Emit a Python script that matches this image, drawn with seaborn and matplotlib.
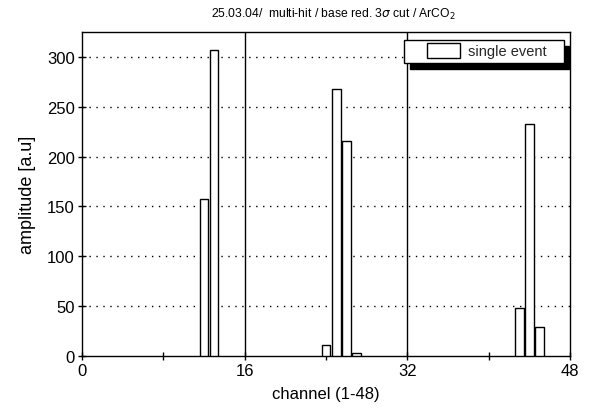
import matplotlib
matplotlib.use("Agg")
import matplotlib.pyplot as plt
from matplotlib.patches import Patch, Rectangle
from matplotlib.legend_handler import HandlerPatch
import seaborn as sns
import pandas as pd

# Channel hits and their amplitudes for one event
channels = [12, 13, 24, 25, 26, 27, 43, 44, 45]
amplitudes = [157, 307, 11, 268, 216, 3, 48, 233, 29]
x_ticks = [0, 8, 16, 24, 32, 40, 48]
x_tick_labels = ["0", "", "16", "", "32", "", "48"]
y_ticks = [0, 50, 100, 150, 200, 250, 300]
legend_label = "single event"

sns.set_theme(style="white")
plt.rcParams["font.family"] = ["Liberation Sans", "DejaVu Sans"]

df = pd.DataFrame({"channel": channels, "amplitude": amplitudes})

fig = plt.figure(figsize=(5.89, 4.14), dpi=100)
ax = fig.add_axes([0.139, 0.138, 0.829, 0.782])

sns.barplot(data=df, x="channel", y="amplitude", native_scale=True,
            color="white", edgecolor="black", linewidth=1.0, width=0.85,
            errorbar=None, ax=ax, zorder=3)

ax.set_xlim(0, 48)
ax.set_ylim(0, 325)

# dotted horizontal guides, solid dividers every 16 channels
for y in y_ticks[1:]:
    ax.axhline(y, color="black", linestyle=(0, (1, 4)), linewidth=1.0, zorder=1)
for xv in (16, 32):
    ax.axvline(xv, color="black", linewidth=1.0, zorder=2)

ax.set_xticks(x_ticks)
ax.set_xticklabels(x_tick_labels)
ax.set_yticks(y_ticks)
ax.tick_params(direction="inout", length=6, width=1, colors="black",
               labelsize=12, bottom=True, left=True, pad=2)

for s in ax.spines.values():
    s.set_color("black")
    s.set_linewidth(1.0)

ax.set_xlabel("channel (1-48)", fontsize=12, color="black", labelpad=6)
ax.set_ylabel("amplitude [a.u]", fontsize=13, color="black", labelpad=8)
ax.set_title(r"25.03.04/  multi-hit / base red. 3$\sigma$ cut / ArCO$_2$",
             fontsize=8.7, color="black", pad=11, x=0.516)


def inset_box(legend, orig_handle, xdescent, ydescent, width, height, fontsize):
    # swatch sits in the right part of the handle area, leaving a left margin
    return Rectangle((-xdescent + 0.36 * width, -ydescent - 0.1 * height),
                     0.64 * width, 1.2 * height)


handle = Patch(facecolor="white", edgecolor="black", linewidth=1.0)
leg = ax.legend([handle], [legend_label + "   "], loc="upper right",
                bbox_to_anchor=(0.993, 0.985), fancybox=False,
                shadow={"color": "black", "alpha": 1.0, "ox": 4, "oy": -4.5},
                framealpha=1.0, edgecolor="black", fontsize=10.5,
                handlelength=3.5, handleheight=0.9, borderpad=0.3,
                handletextpad=0.6, borderaxespad=0.2,
                handler_map={Patch: HandlerPatch(patch_func=inset_box)})
leg.get_frame().set_linewidth(1.0)

fig.savefig("out.png", dpi=100)
